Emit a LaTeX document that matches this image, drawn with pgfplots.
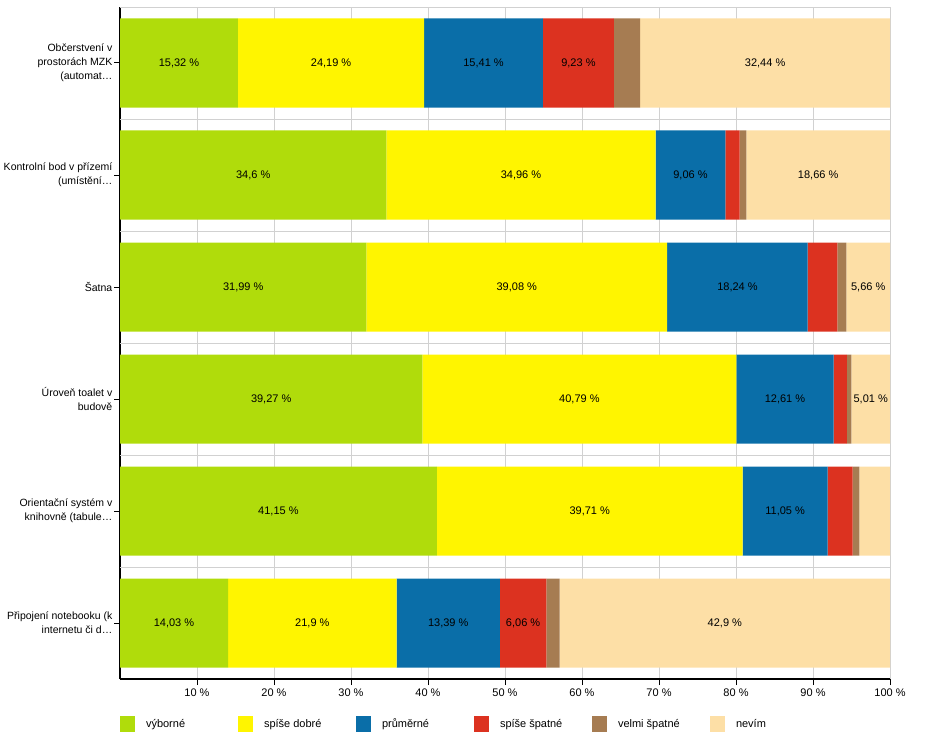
\documentclass[border=0pt]{standalone}
\usepackage{fontspec}
\setmainfont{Liberation Sans}
\usepackage{pgfplots}
\usepackage{pgfplotstable}
\pgfplotsset{compat=1.18}
\definecolor{cVyb}{HTML}{B0DC0B}
\definecolor{cSd}{HTML}{FFF500}
\definecolor{cPrum}{HTML}{0A6EA8}
\definecolor{cSs}{HTML}{DC3220}
\definecolor{cVs}{HTML}{A67C52}
\definecolor{cNev}{HTML}{FDDFA6}
\pgfplotstableread{
cat vyb sd prum ss vs nev
0 14.03 21.9 13.39 6.06 1.72 42.9
1 41.15 39.71 11.05 3.24 0.87 3.98
2 39.27 40.79 12.61 1.74 0.58 5.01
3 31.99 39.08 18.24 3.86 1.17 5.66
4 34.6 34.96 9.06 1.85 0.87 18.66
5 15.32 24.19 15.41 9.23 3.41 32.44
}\data
\pgfplotstableread[col sep=semicolon]{
x;y;lab
7.66;5;15,32
27.415;5;24,19
47.215;5;15,41
59.535;5;9,23
83.78;5;32,44
17.3;4;34,6
52.08;4;34,96
74.09;4;9,06
90.67;4;18,66
16.0;3;31,99
51.53;3;39,08
80.19;3;18,24
97.17;3;5,66
19.635;2;39,27
59.665;2;40,79
86.365;2;12,61
97.495;2;5,01
20.575;1;41,15
61.005;1;39,71
86.385;1;11,05
7.015;0;14,03
24.98;0;21,9
42.625;0;13,39
52.35;0;6,06
78.55;0;42,9
}\labs
\newcommand{\lf}{\fontsize{11}{14}\selectfont}
\newcommand{\yf}{\fontsize{10.5}{14}\selectfont}
\begin{document}
\begin{tikzpicture}
\useasboundingbox (0,0) rectangle (950pt,740pt);
\begin{axis}[
  at={(120pt,61pt)}, anchor=south west,
  scale only axis, width=770pt, height=672pt,
  stack plots=x,
  xmin=0, xmax=100, ymin=-0.5, ymax=5.5,
  ytick={0,...,5},
  yticklabels={{Připojení notebooku (k\\internetu či d…},{Orientační systém v\\knihovně (tabule…},{Úroveň toalet v\\budově},{Šatna},{Kontrolní bod v přízemí\\(umístění…},{Občerstvení v\\prostorách MZK\\(automat…}},
  yticklabel style={align=right, font=\yf, inner sep=1.5pt},
  xtick={10,20,...,100},
  xticklabels={10 \%,20 \%,30 \%,40 \%,50 \%,60 \%,70 \%,80 \%,90 \%,100 \%},
  xticklabel style={font=\lf},
  extra y ticks={0.5,1.5,2.5,3.5,4.5,5.5},
  extra y tick labels={},
  extra y tick style={grid=major, major tick length=0pt, major grid style={draw=black!18, line width=0.8pt}},
  xmajorgrids,
  major grid style={draw=black!18, line width=0.8pt},
  axis x line*=bottom, axis y line*=left,
  axis line style={-, line width=2pt, black},
  tick align=outside, major tick length=6pt,
  major tick style={draw=black, line width=1pt},
  legend columns=6,
  legend style={at={(0,0)}, anchor=west, yshift=-45pt, draw=none, inner sep=0pt, outer sep=0pt, font=\lf,
    /tikz/every odd column/.append style={column sep=9pt},
    /tikz/every even column/.append style={column sep=0pt}},
  legend image code/.code={\fill[#1] (0pt,-8pt) rectangle (15pt,8pt);},
  legend cell align=left,
  every axis plot/.append style={xbar, bar shift=0pt, bar width=89pt, draw=none},
]
\addplot[fill=cVyb] table[x=vyb, y=cat]{\data};
\addlegendentry{\makebox[90pt][l]{výborné}}
\addplot[fill=cSd] table[x=sd, y=cat]{\data};
\addlegendentry{\makebox[90pt][l]{spíše dobré}}
\addplot[fill=cPrum] table[x=prum, y=cat]{\data};
\addlegendentry{\makebox[90pt][l]{průměrné}}
\addplot[fill=cSs] table[x=ss, y=cat]{\data};
\addlegendentry{\makebox[90pt][l]{spíše špatné}}
\addplot[fill=cVs] table[x=vs, y=cat]{\data};
\addlegendentry{\makebox[90pt][l]{velmi špatné}}
\addplot[fill=cNev] table[x=nev, y=cat]{\data};
\addlegendentry{\makebox[90pt][l]{nevím}}
\end{axis}
\begin{axis}[
  at={(120pt,61pt)}, anchor=south west,
  scale only axis, width=770pt, height=672pt,
  xmin=0, xmax=100, ymin=-0.5, ymax=5.5, hide axis,
]
\addplot[only marks, mark=none, point meta=explicit symbolic,
  nodes near coords={\pgfplotspointmeta~\%},
  every node near coord/.style={anchor=center, font=\lf, text=black}]
  table[x=x, y=y, meta=lab]{\labs};
\end{axis}
\end{tikzpicture}
\end{document}
